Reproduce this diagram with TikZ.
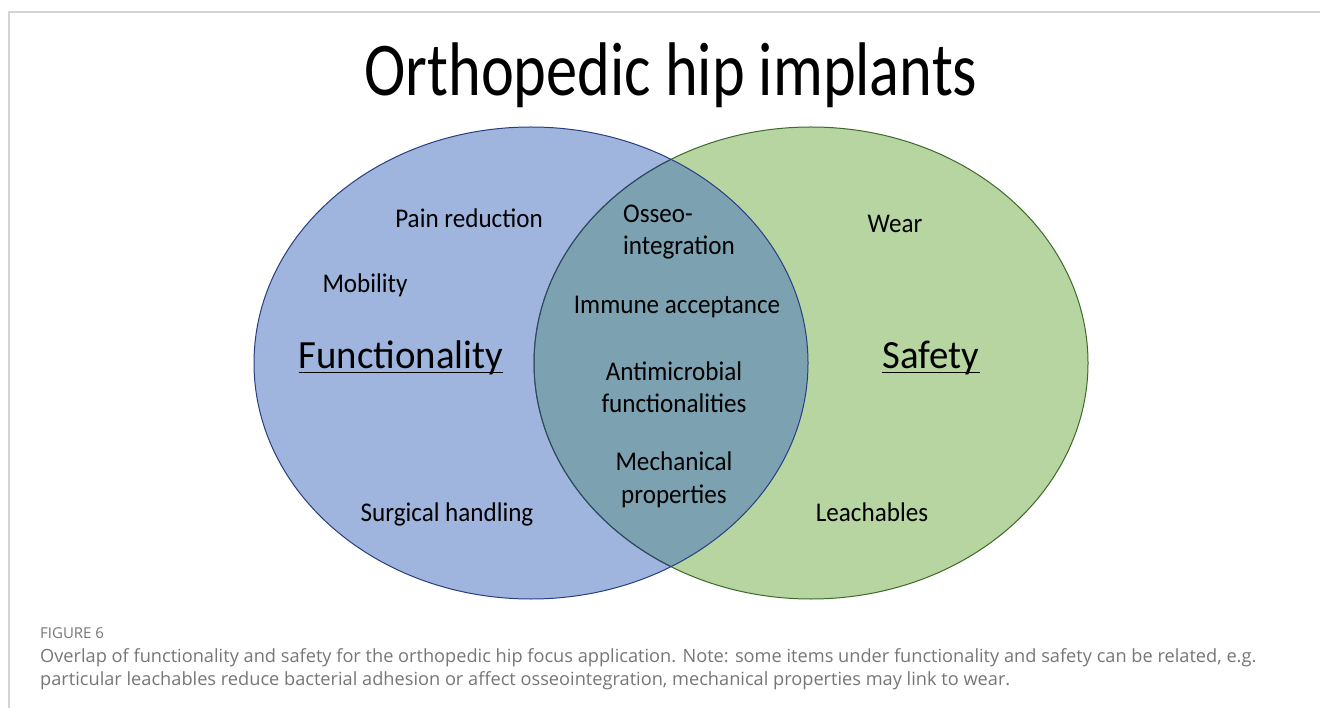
\documentclass[tikz,border=0pt]{standalone}
\usepackage{fontspec}
\setmainfont{Carlito}
\newfontfamily\bodyfont[FakeStretch=0.93]{Carlito}
\newfontfamily\headfont[FakeStretch=0.97]{Carlito}
\newfontfamily\titlefont[FakeStretch=0.82]{Carlito}
\newfontfamily\captionfont{Open Sans}
\usepackage{tikz}
\usetikzlibrary{positioning}
\definecolor{funcFill}{RGB}{160,181,221}
\definecolor{funcLine}{RGB}{40,62,130}
\definecolor{safeFill}{RGB}{182,213,160}
\definecolor{safeLine}{RGB}{62,105,42}
\definecolor{bothFill}{RGB}{124,161,177}
\definecolor{frameGray}{RGB}{212,212,212}
\definecolor{capGray}{RGB}{118,118,118}

\begin{document}
\begin{tikzpicture}[x=1pt, y=-1pt, font=\bodyfont\fontsize{27}{32.5}\selectfont,
  item/.style={inner sep=0pt, anchor=base, align=center},
  heading/.style={inner sep=0pt, anchor=base, font=\headfont\fontsize{40}{44}\selectfont},
  capline/.style={inner sep=0pt, anchor=base west, text=capGray,
    font=\captionfont\fontsize{18.2}{21}\selectfont}]
  \useasboundingbox (0,0) rectangle (1320,708);
  % frame
  \draw[frameGray, line width=1.2pt] (9,708) -- (9,12) -- (1320,12);
  \node[inner sep=0pt, anchor=base, font=\titlefont\fontsize{76}{80}\selectfont] (title) at (671,96) {Orthopedic hip implants};

  % the two sets
  \fill[funcFill] (531,363) ellipse (277pt and 236pt);
  \fill[safeFill] (811,363) ellipse (277pt and 236pt);
  \begin{scope}
    \clip (531,363) ellipse (277pt and 236pt);
    \fill[bothFill] (811,363) ellipse (277pt and 236pt);
  \end{scope}
  \draw[safeLine, line width=1pt] (811,363) ellipse (277pt and 236pt);
  \begin{scope}
    \clip (531,363) ellipse (277pt and 236pt);
    \draw[funcLine!80!safeLine, line width=1pt] (811,363) ellipse (277pt and 236pt);
  \end{scope}
  \draw[funcLine, line width=1pt] (531,363) ellipse (277pt and 236pt);

  % functionality only
  \node[item] (pain) at (469,228) {Pain reduction};
  \node[item] (mobility) at (365,293) {Mobility};
  \node[heading] (func) at (401,369) {Functionality};
  \node[item] (surgical) at (447,521) {Surgical handling};

  % overlap (base = last line)
  \node[item, anchor=base west, align=left] (osseo) at (623,255) {Osseo-\\integration};
  \node[item] (immune) at (677,314) {Immune acceptance};
  \node[item] (antimicro) at (674,413) {Antimicrobial\\functionalities};
  \node[item] (mech) at (674,503) {Mechanical\\properties};

  % safety only
  \node[item] (wear) at (895,233) {Wear};
  \node[heading] (safety) at (931,369) {Safety};
  \node[item] (leach) at (872,521) {Leachables};

  % underlines
  \foreach \n in {func, safety}
    \draw[line width=1.4pt] ([yshift=-3.5pt]\n.base west) -- ([yshift=-3.5pt]\n.base east);

  % caption
  \node[capline, font=\captionfont\fontsize{15}{17}\selectfont] (fignum) at (40,638) {FIGURE 6};
  \node[capline] (capA) at (40,662) {Overlap of functionality and safety for the orthopedic hip focus application. Note: some items under functionality and safety can be related, e.g.};
  \node[capline] (capB) at (40,685) {particular leachables reduce bacterial adhesion or affect osseointegration, mechanical properties may link to wear.};
\end{tikzpicture}
\end{document}
